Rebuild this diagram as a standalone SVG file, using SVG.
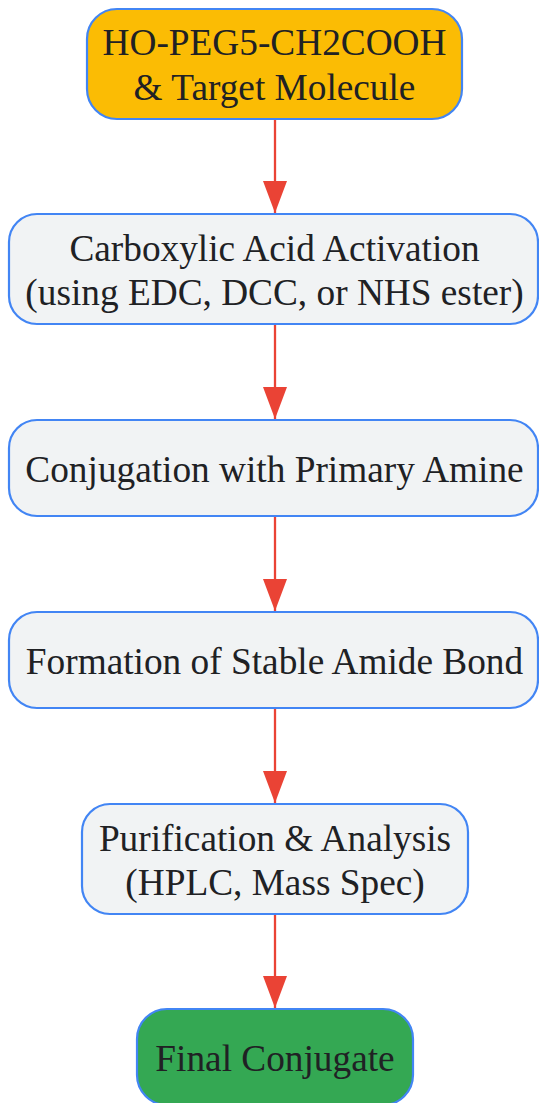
<svg xmlns="http://www.w3.org/2000/svg" width="539" height="1103" viewBox="0 0 539 1103">
<style>
.node rect{stroke:#4285F4;stroke-width:2.2}
.grey rect{fill:#F1F3F4}
.node text{font-family:"Liberation Serif","Times New Roman",serif;font-size:37.3px;fill:#202124;text-anchor:middle}
.edge{stroke:#EA4335;stroke-width:2.3;fill:none}
</style>
<defs>
<marker id="ahv" viewBox="0 0 32 24" refX="32" refY="12" markerWidth="32" markerHeight="24" markerUnits="userSpaceOnUse" orient="auto">
<path d="M0,0 L32,12 L0,24 Z" fill="#EA4335"/>
</marker>
</defs>
<rect width="539" height="1103" fill="#FFFFFF"/>
<g id="connectors">
<line class="edge" x1="275" y1="119" x2="275" y2="213" marker-end="url(#ahv)"/>
<line class="edge" x1="275" y1="324" x2="275" y2="419" marker-end="url(#ahv)"/>
<line class="edge" x1="275" y1="516" x2="275" y2="611" marker-end="url(#ahv)"/>
<line class="edge" x1="275" y1="708" x2="275" y2="803" marker-end="url(#ahv)"/>
<line class="edge" x1="275" y1="914" x2="275" y2="1008" marker-end="url(#ahv)"/>
</g>
<g id="n1" class="node">
<rect x="87" y="9" width="375" height="110" rx="30" fill="#FBBC04"/>
<text x="274.5" y="55">HO-PEG5-CH2COOH</text>
<text x="274.5" y="100">&amp; Target Molecule</text>
</g>
<g id="n2" class="node grey">
<rect x="9" y="214" width="529" height="110" rx="28"/>
<text x="274.5" y="261">Carboxylic Acid Activation</text>
<text x="274.5" y="305">(using EDC, DCC, or NHS ester)</text>
</g>
<g id="n3" class="node grey">
<rect x="9" y="420" width="529" height="96" rx="28"/>
<text x="274.5" y="482">Conjugation with Primary Amine</text>
</g>
<g id="n4" class="node grey">
<rect x="9" y="612" width="529" height="96" rx="28"/>
<text x="274.5" y="674">Formation of Stable Amide Bond</text>
</g>
<g id="n5" class="node grey">
<rect x="82" y="804" width="386" height="110" rx="28"/>
<text x="275" y="851">Purification &amp; Analysis</text>
<text x="275" y="895">(HPLC, Mass Spec)</text>
</g>
<g id="n6" class="node">
<rect x="137" y="1009" width="276" height="96" rx="30" fill="#34A853"/>
<text x="275" y="1071">Final Conjugate</text>
</g>
</svg>
